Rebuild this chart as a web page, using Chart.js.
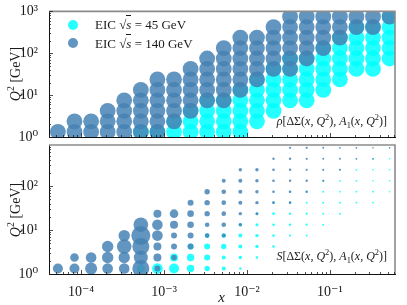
<!DOCTYPE html>
<html>
<head>
<meta charset="utf-8">
<script src="https://cdn.jsdelivr.net/npm/chart.js@4.4.0/dist/chart.umd.min.js"></script>
<style>
  html, body { margin: 0; padding: 0; background: #fff; }
  #wrap { position: relative; width: 407px; height: 305px; overflow: hidden;
          font-family: "Liberation Serif", "DejaVu Serif", serif; color: #1a1a1a; }
  #wrap canvas { position: absolute; left: 0; top: 0; }
  .txt { position: absolute; white-space: nowrap; line-height: 1; }
  .ytitle { font-size: 14px; transform: translate(-50%, -50%) rotate(-90deg); }
  .legend { font-size: 13px; }
  .dot { position: absolute; width: 10px; height: 10px; border-radius: 50%; transform: translate(-50%, -50%); }
  .ol { border-top: 1px solid #1a1a1a; font-style: italic; padding-top: 1px; }
  .note { font-size: 12px; }
  sup, sub { font-size: 70%; line-height: 0; }
</style>
</head>
<body>
<div id="wrap">
  <canvas id="rhoChart" width="407" height="305"></canvas>
  <canvas id="sChart" width="407" height="305"></canvas>

  <div class="dot" style="left:72.7px; top:25px; background:rgba(0,255,255,0.85)"></div>
  <div class="txt legend" style="left:95px; top:18px">EIC √<span class="ol">s</span> = 45 GeV</div>
  <div class="dot" style="left:72.7px; top:43.3px; background:rgba(70,130,180,0.85)"></div>
  <div class="txt legend" style="left:95px; top:36.5px">EIC √<span class="ol">s</span> = 140 GeV</div>

  <div class="txt note" style="right:20px; top:115px"><i>ρ</i>[ΔΣ(<i>x</i>, <i>Q</i><sup>2</sup>), <i>A</i><sub>1</sub>(<i>x</i>, <i>Q</i><sup>2</sup>)]</div>
  <div class="txt note" style="right:20px; top:250px"><i>S</i>[ΔΣ(<i>x</i>, <i>Q</i><sup>2</sup>), <i>A</i><sub>1</sub>(<i>x</i>, <i>Q</i><sup>2</sup>)]</div>

  <div class="txt ytitle" style="left:16px; top:73.5px"><i>Q</i><sup>2</sup> [GeV]</div>
  <div class="txt ytitle" style="left:16px; top:209.5px"><i>Q</i><sup>2</sup> [GeV]</div>
  <div class="txt" style="left:221.7px; top:296.7px; font-size:15px; transform:translate(-50%,-50%)"><i>x</i></div>
</div>

<script>
const xValues = [5.25e-5, 8.32e-5, 1.32e-4, 2.09e-4, 3.31e-4, 5.25e-4, 8.32e-4,
                 1.32e-3, 2.09e-3, 3.31e-3, 5.25e-3, 8.32e-3, 1.32e-2, 2.09e-2,
                 3.31e-2, 5.25e-2, 8.32e-2, 0.132, 0.209, 0.331, 0.525];
const q2Values = [1.33, 2.37, 4.22, 7.50, 13.3, 23.7, 42.2, 75.0, 133, 237, 422, 750];

// first / last Q^2 row reached in each x column
const rowStart140 = [0,0,0,0,0,0,0,1,2,3,3,4,5,6,6,7,8,9,10,10,11];
const rowEnd140   = [0,1,1,2,3,4,5,5,6,7,8,9,9,10,11,11,11,11,11,11,11];
const rowStart45  = [null,null,null,null,null,0,0,0,0,0,0,0,1,2,3,3,4,5,6,6,7];
const rowEnd45    = [null,null,null,null,null,0,0,1,2,3,3,4,5,6,7,7,8,9,10,10,11];

// relative sensitivity |S| per column (rows from rowStart upward)
const sens140 = [
  [0.50],
  [0.50, 0.43],
  [0.60, 0.53],
  [0.53, 0.57, 0.57],
  [0.53, 0.57, 0.73, 0.57],
  [0.85, 0.70, 0.85, 0.95, 0.73],
  [0.30, 0.40, 0.40, 0.53, 0.53, 0.40],
  [0.27, 0.30, 0.30, 0.40, 0.43],
  [0.30, 0.30, 0.33, 0.33, 0.30],
  [0.23, 0.23, 0.27, 0.27, 0.27],
  [0.20, 0.23, 0.23, 0.23, 0.23, 0.20],
  [0.17, 0.17, 0.20, 0.20, 0.20, 0.17],
  [0.15, 0.17, 0.17, 0.17, 0.17],
  [0.14, 0.13, 0.13, 0.13, 0.12],
  [0.13, 0.13, 0.12, 0.12, 0.12, 0.11],
  [0.12, 0.12, 0.11, 0.11, 0.11],
  [0.11, 0.11, 0.10, 0.10],
  [0.10, 0.10, 0.09],
  [0.09, 0.09],
  [0.09, 0.08],
  [0.08]
];
const sens45 = [
  null, null, null, null, null,
  [0.40],
  [0.53],
  [0.50, 0.40],
  [0.37, 0.37, 0.30],
  [0.27, 0.30, 0.30, 0.23],
  [0.20, 0.20, 0.27, 0.23],
  [0.12, 0.17, 0.20, 0.20, 0.17],
  [0.13, 0.17, 0.17, 0.15, 0.13],
  [0.13, 0.13, 0.13, 0.13, 0.12],
  [0.11, 0.12, 0.12, 0.11, 0.10],
  [0.10, 0.11, 0.11, 0.10, 0.10],
  [0.10, 0.10, 0.10, 0.10, 0.09],
  [0.10, 0.10, 0.09, 0.09, 0.09],
  [0.09, 0.09, 0.09, 0.09, 0.08],
  [0.09, 0.09, 0.08, 0.08, 0.08],
  [0.08, 0.08, 0.08, 0.08, 0.07]
];

const xTicks = [1e-4, 1e-3, 1e-2, 1e-1];
const yTicksTop = [1, 10, 100, 1000];
const yTicksBottom = [1, 10, 100];

const CYAN = 'rgba(0,255,255,0.85)';
const BLUE = 'rgba(70,130,180,0.85)';
const RHO_RADIUS = 7.9;   // all correlation bubbles look the same size
const SENS_SCALE = 10;    // px per unit of |S|

function buildPoints(rowStart, rowEnd, sizes, scale) {
  const pts = [];
  xValues.forEach((xv, c) => {
    if (rowStart[c] === null) return;
    for (let r = rowStart[c]; r <= rowEnd[c]; r++) {
      const rad = sizes ? sizes[c][r - rowStart[c]] * scale : scale;
      pts.push({ x: xv, y: q2Values[r], r: rad });
    }
  });
  return pts;
}

const SUP = { '-': '⁻', '0': '⁰', '1': '¹', '2': '²', '3': '³', '4': '⁴' };
function powLabel(v) {
  const e = String(Math.round(Math.log10(v)));
  return '10' + e.split('').map(ch => SUP[ch]).join('');
}

// matplotlib-like frame: inward ticks on left/bottom, grey top/right spines
const frameTicks = {
  id: 'frameTicks',
  afterDraw(chart) {
    const { ctx, chartArea: a, scales: { x, y } } = chart;
    ctx.save();
    ctx.strokeStyle = '#8c8c8c';
    ctx.lineWidth = 1.6;
    ctx.beginPath();
    ctx.moveTo(a.left, a.top);
    ctx.lineTo(a.right, a.top);
    ctx.lineTo(a.right, a.bottom);
    ctx.stroke();

    ctx.strokeStyle = '#222';
    ctx.lineWidth = 0.8;
    ctx.beginPath();
    for (let e = -5; e <= 0; e++) {
      for (let m = 1; m <= 9; m++) {
        const v = m * Math.pow(10, e);
        if (v < x.min || v > x.max) continue;
        const px = Math.round(x.getPixelForValue(v)) + 0.5;
        ctx.moveTo(px, a.bottom);
        ctx.lineTo(px, a.bottom - (m === 1 ? 4 : 2));
      }
    }
    for (let e = 0; e <= 3; e++) {
      for (let m = 1; m <= 9; m++) {
        const v = m * Math.pow(10, e);
        if (v < y.min || v > y.max) continue;
        const py = Math.round(y.getPixelForValue(v)) + 0.5;
        ctx.moveTo(a.left, py);
        ctx.lineTo(a.left + (m === 1 ? 4 : 2), py);
      }
    }
    ctx.stroke();
    ctx.restore();
  }
};

const tickFont = { family: "'Liberation Serif', 'DejaVu Serif', serif", size: 14 };

function makePanel(canvasId, datasets, opts) {
  return new Chart(document.getElementById(canvasId), {
    type: 'bubble',
    data: { datasets },
    options: {
      responsive: false,
      animation: false,
      events: [],
      layout: { padding: { left: 0, right: 12, top: opts.top, bottom: 0 } },
      plugins: { legend: { display: false }, tooltip: { enabled: false } },
      scales: {
        x: {
          type: 'logarithmic', min: 4.1e-5, max: 0.61,
          grid: { display: false },
          border: { display: true, color: '#111', width: 1 },
          ticks: { display: opts.showX, font: tickFont, color: '#1a1a1a', padding: 2,
                   maxRotation: 0, autoSkip: false, callback: powLabel },
          afterBuildTicks: s => { s.ticks = xTicks.map(v => ({ value: v })); },
          afterFit: s => { s.height = opts.xHeight; }
        },
        y: {
          type: 'logarithmic', min: 1, max: opts.yMax,
          grid: { display: false },
          border: { display: true, color: '#111', width: 1 },
          ticks: { font: tickFont, color: '#1a1a1a', padding: 3, autoSkip: false, callback: powLabel },
          afterBuildTicks: s => { s.ticks = opts.yTicks.map(v => ({ value: v })); },
          afterFit: s => { s.width = 49; }
        }
      }
    },
    plugins: [frameTicks]
  });
}

// blue dataset first so it is painted over the cyan one
makePanel('rhoChart', [
  { label: 'EIC √s = 140 GeV', data: buildPoints(rowStart140, rowEnd140, null, RHO_RADIUS),
    backgroundColor: BLUE, borderWidth: 0, hoverRadius: 0, clip: 0 },
  { label: 'EIC √s = 45 GeV', data: buildPoints(rowStart45, rowEnd45, null, RHO_RADIUS),
    backgroundColor: CYAN, borderWidth: 0, hoverRadius: 0, clip: 0 }
], { top: 10, xHeight: 168, yMax: 1000, yTicks: yTicksTop, showX: false });

makePanel('sChart', [
  { label: 'EIC √s = 140 GeV', data: buildPoints(rowStart140, rowEnd140, sens140, SENS_SCALE),
    backgroundColor: BLUE, borderWidth: 0, hoverRadius: 0, clip: 0 },
  { label: 'EIC √s = 45 GeV', data: buildPoints(rowStart45, rowEnd45, sens45, SENS_SCALE),
    backgroundColor: CYAN, borderWidth: 0, hoverRadius: 0, clip: 0 }
], { top: 145, xHeight: 31, yMax: 870, yTicks: yTicksBottom, showX: true });
</script>
</body>
</html>
